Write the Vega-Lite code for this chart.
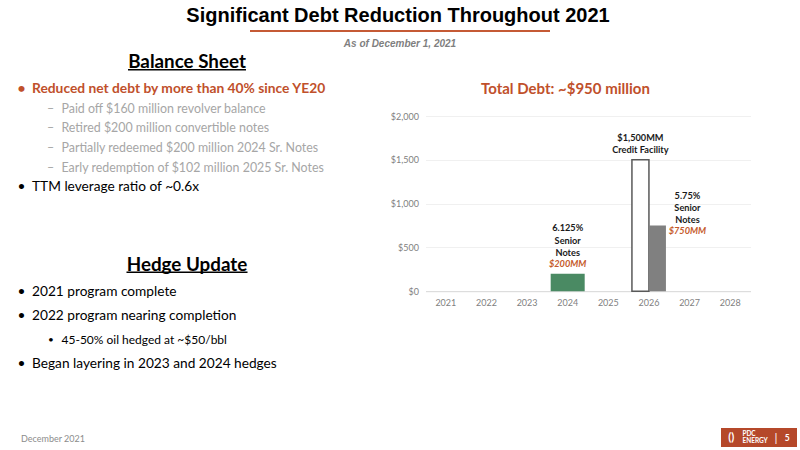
{
  "$schema": "https://vega.github.io/schema/vega-lite/v6.json",
  "background": "white",
  "padding": {"top": 6, "left": 0, "right": 0, "bottom": 0},
  "config": {"view": {"stroke": null}, "font": "Lato"},
  "datasets": {
    "header": [{"text": "As of December 1, 2021"}],
    "slide": [
      {"section": "Balance Sheet", "level": 0, "line": 0, "marker": "", "emphasis": false, "text": "Balance Sheet"},
      {"section": "Balance Sheet", "level": 1, "line": 1, "marker": "•", "emphasis": true, "text": "Reduced net debt by more than 40% since YE20"},
      {"section": "Balance Sheet", "level": 2, "line": 2, "marker": "–", "emphasis": false, "text": "Paid off $160 million revolver balance"},
      {"section": "Balance Sheet", "level": 2, "line": 3, "marker": "–", "emphasis": false, "text": "Retired $200 million convertible notes"},
      {"section": "Balance Sheet", "level": 2, "line": 4, "marker": "–", "emphasis": false, "text": "Partially redeemed $200 million 2024 Sr. Notes"},
      {"section": "Balance Sheet", "level": 2, "line": 5, "marker": "–", "emphasis": false, "text": "Early redemption of $102 million 2025 Sr. Notes"},
      {"section": "Balance Sheet", "level": 1, "line": 6, "marker": "•", "emphasis": false, "text": "TTM leverage ratio of ~0.6x"},
      {"section": "Hedge Update", "level": 0, "line": 0, "marker": "", "emphasis": false, "text": "Hedge Update"},
      {"section": "Hedge Update", "level": 1, "line": 1, "marker": "•", "emphasis": false, "text": "2021 program complete"},
      {"section": "Hedge Update", "level": 1, "line": 2, "marker": "•", "emphasis": false, "text": "2022 program nearing completion"},
      {"section": "Hedge Update", "level": 2, "line": 3, "marker": "•", "emphasis": false, "text": "45-50% oil hedged at ~$50/bbl"},
      {"section": "Hedge Update", "level": 1, "line": 4, "marker": "•", "emphasis": false, "text": "Began layering in 2023 and 2024 hedges"}
    ],
    "debt": [
      {"year": "2024", "series": "6.125% Senior Notes", "value": 200, "label": "6.125%\nSenior\nNotes", "amount": "$200MM"},
      {"year": "2026", "series": "Credit Facility", "value": 1500, "label": "$1,500MM\nCredit Facility", "amount": ""},
      {"year": "2026", "series": "5.75% Senior Notes", "value": 750, "label": "5.75%\nSenior\nNotes", "amount": "$750MM"}
    ],
    "footer": [
      {"item": "date", "text": "December 2021"},
      {"item": "mark", "text": "()"},
      {"item": "logo", "text": "PDC\nENERGY"},
      {"item": "divider", "text": "|"},
      {"item": "page", "text": "5"}
    ]
  },
  "spacing": 4,
  "vconcat": [
    {
      "width": 800,
      "height": 13.5,
      "title": {"text": "Significant Debt Reduction Throughout 2021", "font": "Liberation Sans", "fontSize": 20, "fontWeight": "bold", "color": "#000000", "anchor": "middle", "frame": "group", "offset": 4, "dx": -2},
      "data": {"name": "header"},
      "layer": [
        {
          "mark": {"type": "rule", "color": "#C55A35", "strokeWidth": 2},
          "encoding": {
            "x": {"datum": 31.25, "type": "quantitative", "scale": {"domain": [0, 100], "nice": false, "zero": false}, "axis": null},
            "x2": {"datum": 68.75},
            "y": {"datum": 1, "type": "quantitative", "scale": {"domain": [0, 1], "nice": false}, "axis": null}
          }
        },
        {
          "mark": {"type": "text", "font": "Liberation Sans", "fontSize": 10, "fontStyle": "italic", "fontWeight": "bold", "color": "#7F7F7F", "align": "center", "baseline": "middle"},
          "encoding": {
            "text": {"field": "text"},
            "x": {"datum": 50, "type": "quantitative"},
            "y": {"datum": 0.04, "type": "quantitative"}
          }
        }
      ]
    },
    {
      "spacing": 15.5,
      "hconcat": [
        {
          "width": 374,
          "height": 308,
          "data": {"name": "slide"},
          "encoding": {
            "x": {"field": "level", "type": "quantitative", "scale": {"domain": [0, 1, 2], "range": [187, 17.5, 47], "zero": false, "nice": false}, "axis": null}
          },
          "layer": [
            {
              "transform": [{"filter": "datum.section === 'Balance Sheet'"}],
              "encoding": {
                "y": {"field": "line", "type": "quantitative", "scale": {"domain": [1, 6], "range": [-27, 71.2], "zero": false, "nice": false}, "axis": null}
              },
              "layer": [
                {"transform": [{"filter": "datum.level === 0"}], "mark": {"type": "text", "align": "center", "baseline": "middle", "fontSize": 18.8, "fontWeight": "bold", "color": "#000000", "dy": -7.2}, "encoding": {"text": {"field": "text"}}},
                {"transform": [{"filter": "datum.level === 0"}], "mark": {"type": "rule", "color": "#000000", "strokeWidth": 1.4}, "encoding": {"x": {"datum": -0.348}, "x2": {"datum": 0.348}, "y": {"datum": 0.022}}},
                {"transform": [{"filter": "datum.level === 1 && datum.emphasis"}], "mark": {"type": "text", "align": "left", "baseline": "middle", "fontSize": 13.8, "fontWeight": "bold", "color": "#C0502B"}, "encoding": {"text": {"field": "marker"}}},
                {"transform": [{"filter": "datum.level === 1 && datum.emphasis"}], "mark": {"type": "text", "align": "left", "baseline": "middle", "fontSize": 13.8, "fontWeight": "bold", "color": "#C0502B", "dx": 14.5}, "encoding": {"text": {"field": "text"}}},
                {"transform": [{"filter": "datum.level === 1 && !datum.emphasis"}], "mark": {"type": "text", "align": "left", "baseline": "middle", "fontSize": 13.7, "color": "#000000"}, "encoding": {"text": {"field": "marker"}}},
                {"transform": [{"filter": "datum.level === 1 && !datum.emphasis"}], "mark": {"type": "text", "align": "left", "baseline": "middle", "fontSize": 13.7, "color": "#000000", "dx": 14.5}, "encoding": {"text": {"field": "text"}}},
                {"transform": [{"filter": "datum.level === 2"}], "mark": {"type": "text", "align": "left", "baseline": "middle", "fontSize": 12.4, "color": "#A6A6A6"}, "encoding": {"text": {"field": "marker"}}},
                {"transform": [{"filter": "datum.level === 2"}], "mark": {"type": "text", "align": "left", "baseline": "middle", "fontSize": 12.4, "color": "#A6A6A6", "dx": 14.5}, "encoding": {"text": {"field": "text"}}}
              ]
            },
            {
              "transform": [{"filter": "datum.section === 'Hedge Update'"}],
              "encoding": {
                "y": {"field": "line", "type": "quantitative", "scale": {"domain": [1, 4], "range": [176.2, 247.5], "zero": false, "nice": false}, "axis": null}
              },
              "layer": [
                {"transform": [{"filter": "datum.level === 0"}], "mark": {"type": "text", "align": "center", "baseline": "middle", "fontSize": 18.8, "fontWeight": "bold", "color": "#000000", "dy": -3.9}, "encoding": {"text": {"field": "text"}}},
                {"transform": [{"filter": "datum.level === 0"}], "mark": {"type": "rule", "color": "#000000", "strokeWidth": 1.4}, "encoding": {"x": {"datum": -0.357}, "x2": {"datum": 0.357}, "y": {"datum": 0.159}}},
                {"transform": [{"filter": "datum.level === 1"}], "mark": {"type": "text", "align": "left", "baseline": "middle", "fontSize": 13.7, "color": "#000000"}, "encoding": {"text": {"field": "marker"}}},
                {"transform": [{"filter": "datum.level === 1"}], "mark": {"type": "text", "align": "left", "baseline": "middle", "fontSize": 13.7, "color": "#000000", "dx": 14.5}, "encoding": {"text": {"field": "text"}}},
                {"transform": [{"filter": "datum.level === 2"}], "mark": {"type": "text", "align": "left", "baseline": "middle", "fontSize": 10, "color": "#000000", "dx": 1}, "encoding": {"text": {"field": "marker"}}},
                {"transform": [{"filter": "datum.level === 2"}], "mark": {"type": "text", "align": "left", "baseline": "middle", "fontSize": 12, "color": "#000000", "dx": 14.5}, "encoding": {"text": {"field": "text"}}}
              ]
            }
          ],
          "resolve": {"scale": {"y": "independent"}}
        },
        {
          "width": 325,
          "height": 175.2,
          "data": {"name": "debt"},
          "title": {"text": ["", "Total Debt: ~$950 million"], "font": "Lato", "fontSize": 15, "fontWeight": "bold", "color": "#C0502B", "anchor": "middle", "frame": "bounds", "lineHeight": 28, "offset": 15, "dx": -5},
          "encoding": {
            "x": {
              "field": "year", "type": "ordinal",
              "scale": {"domain": ["2021", "2022", "2023", "2024", "2025", "2026", "2027", "2028"], "paddingInner": 0.163, "paddingOuter": 0.0815},
              "axis": {"title": null, "labelAngle": 0, "ticks": false, "domainColor": "#D9D9D9", "labelColor": "#7F7F7F", "labelFontSize": 9, "labelFont": "Lato", "labelPadding": 7}
            },
            "y": {
              "field": "value", "type": "quantitative",
              "scale": {"domain": [0, 2000], "nice": false},
              "axis": {"title": null, "values": [0, 500, 1000, 1500, 2000], "format": "$,.0f", "domain": false, "ticks": false, "labelColor": "#7F7F7F", "labelFontSize": 9, "labelFont": "Lato", "labelPadding": 7, "gridColor": "#F0F0F0"}
            }
          },
          "layer": [
            {
              "transform": [{"filter": "datum.year === '2024'"}],
              "mark": {"type": "bar"},
              "encoding": {
                "color": {"field": "series", "type": "nominal", "scale": {"domain": ["6.125% Senior Notes", "Credit Facility", "5.75% Senior Notes"], "range": ["#4A8A63", "#FFFFFF", "#808080"]}, "legend": null}
              }
            },
            {
              "transform": [{"filter": "datum.year === '2026'"}],
              "mark": {"type": "bar", "strokeWidth": 1.5},
              "encoding": {
                "xOffset": {"field": "series", "type": "nominal", "scale": {"domain": ["Credit Facility", "5.75% Senior Notes"], "paddingInner": 0, "paddingOuter": 0}},
                "color": {"field": "series", "type": "nominal", "legend": null},
                "stroke": {"condition": {"test": "datum.series === 'Credit Facility'", "value": "#595959"}, "value": "transparent"}
              }
            },
            {
              "transform": [{"filter": "datum.year === '2024'"}],
              "mark": {"type": "text", "font": "Lato", "fontSize": 9.2, "fontWeight": "bold", "color": "#1A1A1A", "lineBreak": "\n", "lineHeight": 12.25, "baseline": "middle", "align": "center", "dy": -45.2},
              "encoding": {"text": {"field": "label"}}
            },
            {
              "transform": [{"filter": "datum.year === '2024'"}],
              "mark": {"type": "text", "font": "Lato", "fontSize": 9.2, "fontWeight": "bold", "fontStyle": "italic", "color": "#C55A2A", "baseline": "middle", "align": "center", "dy": -9.2},
              "encoding": {"text": {"field": "amount"}}
            },
            {
              "transform": [{"filter": "datum.series === 'Credit Facility'"}],
              "mark": {"type": "text", "font": "Lato", "fontSize": 9.2, "fontWeight": "bold", "color": "#1A1A1A", "lineBreak": "\n", "lineHeight": 12.7, "baseline": "middle", "align": "center", "dy": -22},
              "encoding": {"text": {"field": "label"}, "xOffset": {"field": "series", "type": "nominal"}}
            },
            {
              "transform": [{"filter": "datum.series === '5.75% Senior Notes'"}],
              "mark": {"type": "text", "font": "Lato", "fontSize": 9.2, "fontWeight": "bold", "color": "#1A1A1A", "lineBreak": "\n", "lineHeight": 12.25, "baseline": "middle", "align": "center", "dx": 30, "dy": -30},
              "encoding": {"text": {"field": "label"}, "xOffset": {"field": "series", "type": "nominal"}}
            },
            {
              "transform": [{"filter": "datum.series === '5.75% Senior Notes'"}],
              "mark": {"type": "text", "font": "Lato", "fontSize": 9.2, "fontWeight": "bold", "fontStyle": "italic", "color": "#C55A2A", "baseline": "middle", "align": "center", "dx": 30, "dy": 5.7},
              "encoding": {"text": {"field": "amount"}, "xOffset": {"field": "series", "type": "nominal"}}
            }
          ]
        }
      ]
    },
    {
      "width": 800,
      "height": 19,
      "data": {"name": "footer"},
      "encoding": {
        "x": {"datum": 0, "type": "quantitative", "scale": {"domain": [0, 100], "nice": false, "zero": false}, "axis": null},
        "y": {"datum": 0.5, "type": "quantitative", "scale": {"domain": [0, 1], "nice": false}, "axis": null}
      },
      "layer": [
        {
          "transform": [{"filter": "datum.item === 'date'"}],
          "mark": {"type": "text", "font": "Lato", "fontSize": 9, "color": "#8C8C8C", "align": "left", "baseline": "middle"},
          "encoding": {"text": {"field": "text"}, "x": {"datum": 2.625}, "y": {"datum": 0.42}}
        },
        {
          "transform": [{"filter": "datum.item === 'logo'"}],
          "mark": {"type": "rect", "color": "#B5482A"},
          "encoding": {"x": {"datum": 90.125}, "x2": {"datum": 99.625}, "y": {"datum": 0}, "y2": {"datum": 1}}
        },
        {
          "transform": [{"filter": "datum.item === 'mark'"}],
          "mark": {"type": "text", "font": "Lato", "fontSize": 11, "fontWeight": "bold", "color": "#FFFFFF", "align": "center", "baseline": "middle"},
          "encoding": {"text": {"field": "text"}, "x": {"datum": 91.4}}
        },
        {
          "transform": [{"filter": "datum.item === 'logo'"}],
          "mark": {"type": "text", "font": "Lato", "fontSize": 6.5, "fontWeight": "bold", "color": "#FFFFFF", "align": "left", "baseline": "middle", "lineBreak": "\n", "lineHeight": 6.5, "dy": -3.2},
          "encoding": {"text": {"field": "text"}, "x": {"datum": 92.8}}
        },
        {
          "transform": [{"filter": "datum.item === 'divider'"}],
          "mark": {"type": "text", "font": "Lato", "fontSize": 12, "color": "#FFFFFF", "align": "center", "baseline": "middle"},
          "encoding": {"text": {"field": "text"}, "x": {"datum": 97.0}}
        },
        {
          "transform": [{"filter": "datum.item === 'page'"}],
          "mark": {"type": "text", "font": "Lato", "fontSize": 8.5, "fontWeight": "bold", "color": "#FFFFFF", "align": "center", "baseline": "middle"},
          "encoding": {"text": {"field": "text"}, "x": {"datum": 98.4}}
        }
      ]
    }
  ]
}
